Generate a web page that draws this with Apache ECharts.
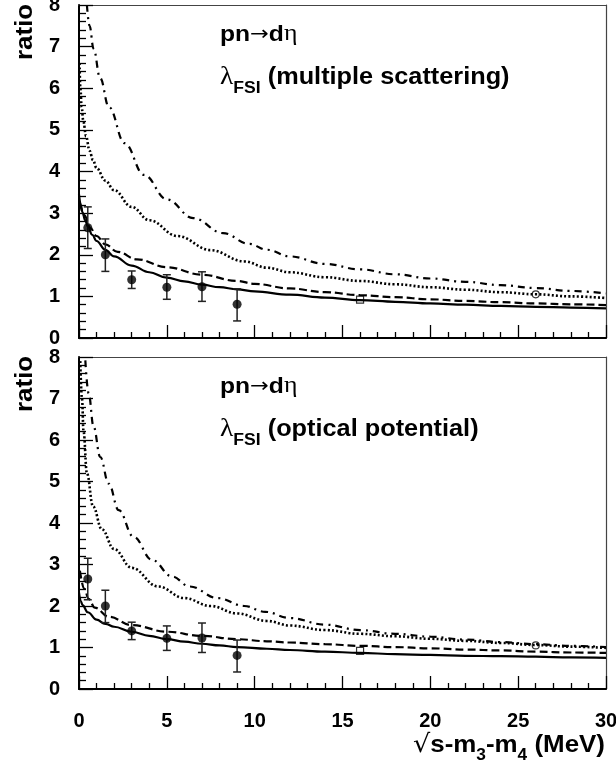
<!DOCTYPE html>
<html>
<head>
<meta charset="utf-8">
<script src="https://cdn.jsdelivr.net/npm/echarts@6/dist/echarts.min.js"></script>
<style>
  html, body { margin: 0; padding: 0; background: #fff; }
  #chart { width: 616px; height: 771px; }
</style>
</head>
<body>
<div id="chart"></div>
<script>
// Measured ratios with errors (the same points appear in both panels)
const pointX    = [0.5, 1.5, 3, 5, 7, 9];
const pointY    = [2.65, 2.0, 1.4, 1.22, 1.23, 0.81];
const pointLow  = [2.15, 1.6, 1.19, 0.93, 0.88, 0.41];
const pointHigh = [3.15, 2.38, 1.61, 1.52, 1.59, 1.18];

// Two extra open markers at higher energy
const openSquare = [16, 0.92];
const openCircle = [26, 1.05];

// Upper panel: lambda_FSI from multiple scattering
const msSolid = [[0,3.45],[0.1,3.2],[0.2,3.02],[0.35,2.83],[0.5,2.68],[0.75,2.48],[1,2.33],[1.5,2.12],[2,1.96],[3,1.74],[4,1.58],[5,1.45],[6,1.36],[7,1.28],[8,1.22],[9,1.17],[10,1.12],[12,1.04],[14,0.97],[16,0.91],[18,0.87],[20,0.83],[22,0.8],[24,0.77],[26,0.75],[28,0.73],[30,0.71]];
const msDashed = [[0.05,3.25],[0.3,2.95],[0.65,2.64],[1,2.45],[1.5,2.25],[2.2,2.07],[3.3,1.89],[5,1.7],[7,1.52],[9,1.37],[10,1.3],[12,1.19],[14,1.1],[16,1.03],[18,0.98],[20,0.93],[22,0.89],[24,0.86],[26,0.83],[28,0.81],[30,0.79]];
const msDotted = [[0.03,6.6],[0.08,6.0],[0.15,5.55],[0.25,5.2],[0.4,4.85],[0.6,4.5],[0.8,4.27],[1,4.08],[1.5,3.78],[2,3.55],[3,3.15],[4,2.83],[5.6,2.45],[7.5,2.11],[9.4,1.84],[10.7,1.69],[12,1.58],[14,1.46],[16,1.37],[18,1.29],[20,1.22],[22,1.16],[24,1.1],[26,1.05],[28,1.0],[30,0.96]];
const msDashDot = [[0.45,8.0],[0.6,7.5],[0.83,6.95],[1.2,6.25],[1.7,5.55],[2.6,4.68],[3.7,3.92],[5,3.33],[6.5,2.88],[8.2,2.52],[9.7,2.26],[10.7,2.12],[12,1.96],[14,1.78],[16,1.65],[18,1.53],[20,1.43],[22,1.35],[24,1.27],[26,1.2],[28,1.13],[30,1.07]];

// Lower panel: lambda_FSI from the optical potential
const opSolid = [[0,2.32],[0.1,2.12],[0.2,2.02],[0.5,1.85],[1,1.67],[1.5,1.57],[2,1.5],[3,1.38],[4,1.28],[5,1.2],[6,1.14],[7,1.09],[8,1.05],[9,1.01],[10.7,0.97],[12,0.94],[14,0.9],[16,0.87],[18,0.84],[20,0.82],[22,0.8],[24,0.79],[26,0.78],[28,0.76],[30,0.75]];
const opDashed = [[0.05,2.85],[0.3,2.42],[0.55,2.17],[0.9,1.96],[1.7,1.74],[3,1.54],[5,1.38],[7,1.28],[9,1.2],[10.7,1.15],[12,1.12],[14,1.08],[16,1.04],[18,1.01],[20,0.98],[22,0.95],[24,0.93],[26,0.9],[28,0.88],[30,0.87]];
const opDotted = [[0.07,7.9],[0.17,7.0],[0.26,6.2],[0.45,5.2],[0.8,4.4],[1.3,3.85],[2,3.37],[3,2.92],[4.5,2.47],[6,2.19],[7.5,2.0],[9,1.82],[10.7,1.64],[12,1.53],[14,1.42],[16,1.33],[18,1.27],[20,1.21],[22,1.16],[24,1.11],[26,1.06],[28,1.02],[30,0.99]];
const opDashDot = [[0.36,7.92],[0.55,7.12],[0.83,6.32],[1.21,5.59],[1.69,4.95],[2.26,4.31],[3.1,3.67],[4.16,3.11],[5.3,2.71],[6.3,2.47],[7.9,2.19],[9.4,2.0],[10.6,1.86],[12,1.71],[14,1.55],[16,1.42],[18,1.33],[20,1.26],[22,1.19],[24,1.13],[26,1.08],[28,1.04],[30,1.01]];

// Axis ranges, major tick spacing and minor subdivisions
const xRange = [0, 30], xMajor = 5, xMinorSplit = 5;
const yRange = [0, 8],  yMajor = 1, yMinorSplit = 5;

// Panel captions
const reaction = ['pn', '\u2192', 'd', '\u03b7'];
const panelModels = ['multiple scattering', 'optical potential'];

const FONT = '"Liberation Sans", Arial, Helvetica, sans-serif';
const SYMBOL_FONT = '"Liberation Serif", "Times New Roman", serif';
const ARROW_FONT = '"DejaVu Sans", sans-serif';

const lineStyles = {
  solid:   { color: '#000', width: 2.2, type: 'solid' },
  dashed:  { color: '#000', width: 2.2, type: [8, 4] },
  dotted:  { color: '#000', width: 2.6, type: [2, 2.2] },
  dashDot: { color: '#000', width: 2.2, type: [7, 5, 2, 5] }
};

const measureCtx = document.createElement('canvas').getContext('2d');
function textWidth(str, size, weight, family) {
  measureCtx.font = weight + ' ' + size + 'px ' + family;
  return measureCtx.measureText(str).width;
}

// A run of text pieces laid out on one baseline, optionally stretched horizontally
function textRun(parts, x, baseline, sx, extra) {
  let cx = 0;
  const children = parts.map(p => {
    const family = p.family || FONT;
    const el = {
      type: 'text',
      x: cx,
      y: (p.dy || 0) - 0.32 * p.size,
      style: {
        text: p.text,
        fontFamily: family,
        fontSize: p.size,
        fontWeight: p.weight,
        fill: '#000',
        align: 'left',
        verticalAlign: 'middle'
      }
    };
    cx += textWidth(p.text, p.size, p.weight, family) + (p.gap || 0);
    return el;
  });
  return Object.assign({ type: 'group', x: x, y: baseline, scaleX: sx, children: children, width: cx }, extra || {});
}

const grids = [
  { left: 79, top: 5, width: 527, height: 333, outerBoundsMode: 'none' },
  { left: 79, top: 357, width: 527, height: 332, outerBoundsMode: 'none' }
];

const labelFont = { color: '#000', fontFamily: FONT, fontSize: 20, fontWeight: 'bold' };

function xAxisFor(i) {
  return {
    type: 'value', gridIndex: i, min: xRange[0], max: xRange[1], interval: xMajor,
    axisLine: { show: true, onZero: false, lineStyle: { color: '#000', width: 2 } },
    axisTick: { show: true, inside: true, length: 13, lineStyle: { color: '#000', width: 1.3 } },
    minorTick: { show: true, splitNumber: xMinorSplit, length: 6, lineStyle: { color: '#000', width: 1.3 } },
    splitLine: { show: false },
    axisLabel: Object.assign({ show: i === 1, margin: 22 }, labelFont)
  };
}
function yAxisFor(i) {
  return {
    type: 'value', gridIndex: i, min: yRange[0], max: yRange[1], interval: yMajor,
    axisLine: { show: true, onZero: false, lineStyle: { color: '#000', width: 2 } },
    axisTick: { show: true, inside: true, length: 14, lineStyle: { color: '#000', width: 1.3 } },
    minorTick: { show: true, splitNumber: yMinorSplit, length: 7, lineStyle: { color: '#000', width: 1.3 } },
    splitLine: { show: false },
    axisLabel: Object.assign({ show: true, margin: 19 }, labelFont)
  };
}
// Plain frame edges on the top and right of each panel
function frameAxis(kind, i) {
  const base = {
    type: 'value', gridIndex: i,
    axisLine: { show: true, onZero: false, lineStyle: { color: '#444', width: 1.2 } },
    axisTick: { show: false }, minorTick: { show: false },
    axisLabel: { show: false }, splitLine: { show: false }
  };
  return kind === 'x'
    ? Object.assign(base, { position: 'top', min: xRange[0], max: xRange[1] })
    : Object.assign(base, { position: 'right', min: yRange[0], max: yRange[1] });
}

function curve(data, style, i) {
  return {
    type: 'line', xAxisIndex: i, yAxisIndex: i,
    data: data, showSymbol: false, symbol: 'none',
    smooth: 0.4, smoothMonotone: 'x', clip: true,
    lineStyle: style, z: 2, silent: true
  };
}

function panelSeries(i, curves) {
  return [
    curve(curves[0], lineStyles.solid, i),
    curve(curves[1], lineStyles.dashed, i),
    curve(curves[2], lineStyles.dotted, i),
    curve(curves[3], lineStyles.dashDot, i),
    {
      type: 'custom', xAxisIndex: i, yAxisIndex: i, z: 3, clip: true,
      data: pointX.map((x, k) => [x, pointLow[k], pointHigh[k]]),
      encode: { x: 0, y: [1, 2] },
      renderItem: function (params, api) {
        const lo = api.coord([api.value(0), api.value(1)]);
        const hi = api.coord([api.value(0), api.value(2)]);
        const cap = 4;
        const st = { stroke: '#222', lineWidth: 1.5 };
        return {
          type: 'group',
          children: [
            { type: 'line', shape: { x1: lo[0], y1: lo[1], x2: hi[0], y2: hi[1] }, style: st },
            { type: 'line', shape: { x1: lo[0] - cap, y1: lo[1], x2: lo[0] + cap, y2: lo[1] }, style: st },
            { type: 'line', shape: { x1: hi[0] - cap, y1: hi[1], x2: hi[0] + cap, y2: hi[1] }, style: st }
          ]
        };
      }
    },
    {
      type: 'scatter', xAxisIndex: i, yAxisIndex: i, z: 4,
      data: pointX.map((x, k) => [x, pointY[k]]),
      symbol: 'circle', symbolSize: 9,
      itemStyle: { color: '#000' }
    },
    {
      type: 'scatter', xAxisIndex: i, yAxisIndex: i, z: 4,
      data: [openSquare], symbol: 'rect', symbolSize: 7,
      itemStyle: { color: 'rgba(255,255,255,0)', borderColor: '#000', borderWidth: 1.2 }
    },
    {
      type: 'scatter', xAxisIndex: i, yAxisIndex: i, z: 4,
      data: [openCircle], symbol: 'circle', symbolSize: 7,
      itemStyle: { color: 'rgba(255,255,255,0)', borderColor: '#000', borderWidth: 1.2 }
    }
  ];
}

// Captions inside each panel
const captions = [];
grids.forEach((g, i) => {
  captions.push(textRun([
    { text: reaction[0], size: 22, weight: 'bold' },
    { text: reaction[1], size: 20, weight: 'normal', family: ARROW_FONT, dy: -1 },
    { text: reaction[2], size: 22, weight: 'bold' },
    { text: reaction[3], size: 23, weight: 'normal', family: SYMBOL_FONT }
  ], 220, g.top + 36.8, 1.12));
  captions.push(textRun([
    { text: '\u03bb', size: 25, weight: 'normal', family: SYMBOL_FONT },
    { text: 'FSI', size: 16, weight: 'bold', dy: 8 },
    { text: ' (' + panelModels[i] + ')', size: 23, weight: 'bold' }
  ], 220, g.top + 80.3, 1.1));
});

// Axis titles
const yTitleTop = textRun([{ text: 'ratio', size: 24, weight: 'bold' }], 33, 60, 1.08, { rotation: Math.PI / 2 });
const yTitleBottom = textRun([{ text: 'ratio', size: 24, weight: 'bold' }], 33, 412, 1.08, { rotation: Math.PI / 2 });
const xTitleParts = [
  { text: '\u221a', size: 25, weight: 'normal', family: ARROW_FONT },
  { text: 's-m', size: 24, weight: 'bold' },
  { text: '3', size: 16, weight: 'bold', dy: 8 },
  { text: '-m', size: 24, weight: 'bold' },
  { text: '4', size: 16, weight: 'bold', dy: 8 },
  { text: ' (MeV)', size: 24, weight: 'bold' }
];
const xTitleWidth = textRun(xTitleParts, 0, 0, 1).width;
const xTitleScale = 192 / xTitleWidth;
const xTitle = textRun(xTitleParts, 605 - xTitleWidth * xTitleScale, 753, xTitleScale);

const chart = echarts.init(document.getElementById('chart'), null, { renderer: 'canvas' });
chart.setOption({
  animation: false,
  backgroundColor: '#fff',
  grid: grids,
  xAxis: [xAxisFor(0), xAxisFor(1), frameAxis('x', 0), frameAxis('x', 1)],
  yAxis: [yAxisFor(0), yAxisFor(1), frameAxis('y', 0), frameAxis('y', 1)],
  series: panelSeries(0, [msSolid, msDashed, msDotted, msDashDot])
    .concat(panelSeries(1, [opSolid, opDashed, opDotted, opDashDot])),
  graphic: captions.concat([yTitleTop, yTitleBottom, xTitle])
});
</script>
</body>
</html>
